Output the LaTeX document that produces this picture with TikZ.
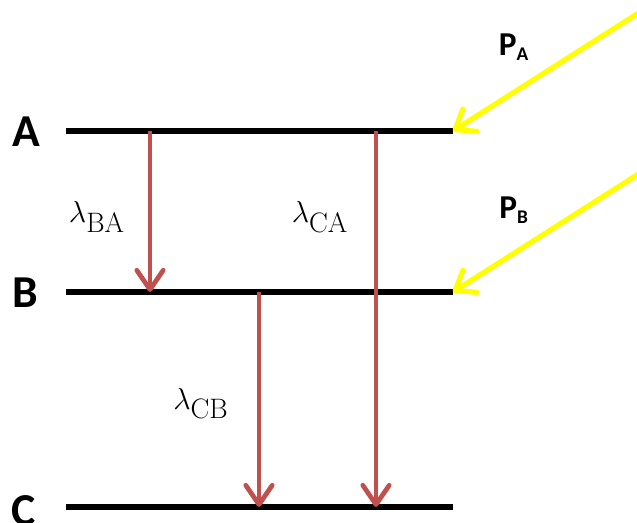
\documentclass[tikz,border=0pt]{standalone}
\usepackage{fontspec}
\usepackage{amsmath}
\usetikzlibrary{arrows.meta,positioning}
\newfontfamily\lvlfont{Carlito}
\definecolor{decayred}{HTML}{C0504D}
\definecolor{pumpyellow}{HTML}{FFFF00}

\begin{document}
\begin{tikzpicture}[x=0.02cm,y=-0.02cm,
  level/.style={line width=3pt},
  lvlname/.style={font=\lvlfont\fontsize{26}{26}\selectfont\bfseries},
  pumplbl/.style={font=\lvlfont\fontsize{19}{19}\selectfont\bfseries,inner sep=0pt},
  decay/.style={draw=decayred,line width=2.7pt,
                -{Straight Barb[round,length=11pt,width=15pt]}},
  pump/.style={draw=pumpyellow,line width=2.9pt,
               -{Straight Barb[round,length=10pt,width=15pt]}},
  ratelbl/.style={font=\fontsize{16}{16}\selectfont}
]
\useasboundingbox (0,0) rectangle (637,523);

% energy levels
\coordinate (A1) at (66,131);  \coordinate (A2) at (453,131);
\coordinate (B1) at (66,292);  \coordinate (B2) at (453,292);
\coordinate (C1) at (66,507);  \coordinate (C2) at (453,507);
\draw[level] (A1) -- (A2);
\draw[level] (B1) -- (B2);
\draw[level] (C1) -- (C2);

\node[lvlname] (lA) at (26,132) {A};
\node[lvlname] (lB) at (25,293) {B};
\node[lvlname] (lC) at (24,511) {C};

% decays
\coordinate (ba1) at (150,131); \coordinate (ba2) at (150,292);
\coordinate (ca1) at (376,131); \coordinate (ca2) at (376,507);
\coordinate (cb1) at (259,292); \coordinate (cb2) at (259,507);
\draw[decay] (ba1) -- (ba2);
\draw[decay] (ca1) -- (ca2);
\draw[decay] (cb1) -- (cb2);

\node[ratelbl] (rBA) at (97,217)  {$\lambda_{\textstyle\mathrm{BA}}$};
\node[ratelbl] (rCA) at (320,217) {$\lambda_{\textstyle\mathrm{CA}}$};
\node[ratelbl] (rCB) at (201,404) {$\lambda_{\textstyle\mathrm{CB}}$};

% pumping
\coordinate (pa) at (640,12);
\coordinate (pb) at (640,173);
\draw[pump] (pa) -- (A2);
\draw[pump] (pb) -- (B2);

\node[pumplbl] (PA) at (514,47)  {P\textsubscript{\fontsize{11}{11}\selectfont A}};
\node[pumplbl] (PB) at (514,210) {P\textsubscript{\fontsize{11}{11}\selectfont B}};
\end{tikzpicture}
\end{document}
